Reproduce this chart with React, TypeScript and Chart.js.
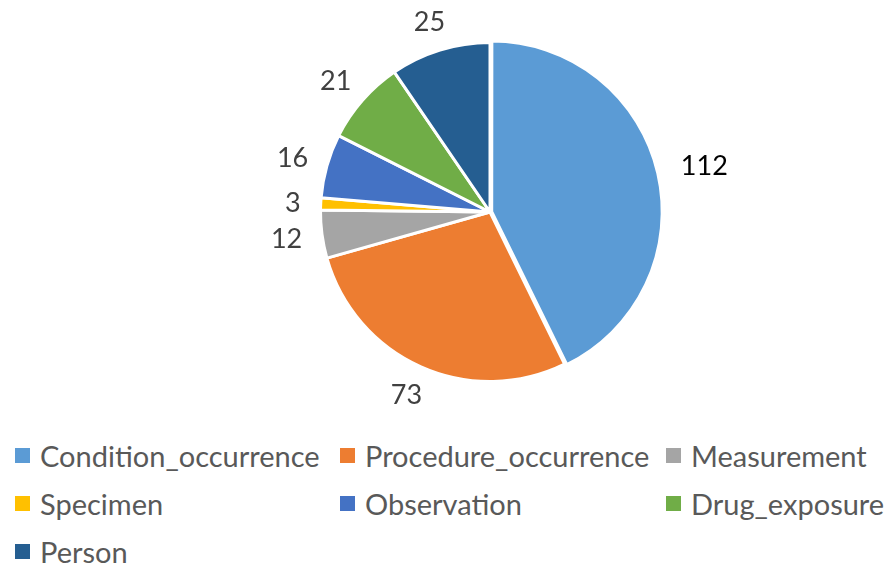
import React, { useEffect, useRef } from "react";
import { Chart, registerables } from "chart.js";

Chart.register(...registerables);

const categories = [
  "Condition_occurrence",
  "Procedure_occurrence",
  "Measurement",
  "Specimen",
  "Observation",
  "Drug_exposure",
  "Person",
];
const values = [112, 73, 12, 3, 16, 21, 25];
const colors = ["#5B9BD5", "#ED7D31", "#A5A5A5", "#FFC000", "#4472C4", "#70AD47", "#255E91"];
const explode = [7, 0, 0, 0, 0, 0, 0];
const labelColors = ["#000000", "#404040", "#404040", "#404040", "#404040", "#404040", "#404040"];

const FONT = "Lato, 'Open Sans', sans-serif";
const LABEL_GAP = 20;

const labelPlugin = {
  id: "outsideLabels",
  afterDatasetsDraw(chart: any) {
    const ctx = chart.ctx as CanvasRenderingContext2D;
    const meta = chart.getDatasetMeta(0);
    ctx.save();
    ctx.font = `27px ${FONT}`;
    ctx.textAlign = "center";
    ctx.textBaseline = "alphabetic";
    const capH = 19.4;
    meta.data.forEach((arc: any, i: number) => {
      const p = arc.getProps(["x", "y", "startAngle", "endAngle", "outerRadius"], true);
      const mid = (p.startAngle + p.endAngle) / 2;
      const ux = Math.cos(mid);
      const uy = Math.sin(mid);
      const text = String(values[i]);
      const w = ctx.measureText(text).width;
      const d = p.outerRadius + explode[i] + LABEL_GAP;
      const cx = p.x + ux * d + ux * (w / 2);
      const cy = p.y + uy * d + uy * (capH / 2);
      ctx.fillStyle = labelColors[i];
      ctx.fillText(text, cx, cy + capH / 2);
    });
    ctx.restore();
  },
};

export default function App() {
  const ref = useRef<HTMLCanvasElement | null>(null);

  useEffect(() => {
    if (!ref.current) return;
    const chart = new Chart(ref.current, {
      type: "pie",
      data: {
        labels: categories,
        datasets: [
          {
            data: values,
            backgroundColor: colors,
            borderColor: "#ffffff",
            borderWidth: 3,
            offset: explode,
          } as any,
        ],
      },
      options: {
        responsive: false,
        animation: false,
        radius: 169.5,
        layout: { padding: { left: 100, right: 7, top: 0, bottom: 6 } },
        plugins: {
          legend: { display: false },
          tooltip: { enabled: false },
        },
      } as any,
      plugins: [labelPlugin],
    });
    return () => chart.destroy();
  }, []);

  return (
    <div style={{ position: "absolute", left: 0, top: 0, width: 887, height: 564, background: "#fff", overflow: "hidden" }}>
      <canvas ref={ref} width={887} height={430} style={{ display: "block" }} />
      <div
        style={{
          position: "absolute",
          left: 15,
          top: 431,
          display: "grid",
          gridTemplateColumns: "325px 326px 230px",
          gridAutoRows: "48px",
          fontFamily: FONT,
          fontSize: 29,
          color: "#595959",
        }}
      >
        {categories.map((c, i) => (
          <div key={c} style={{ display: "flex", alignItems: "center", whiteSpace: "nowrap" }}>
            <span style={{ display: "inline-block", width: 15, height: 15, background: colors[i], marginRight: 10, flex: "0 0 auto" }} />
            <span>{c}</span>
          </div>
        ))}
      </div>
    </div>
  );
}
